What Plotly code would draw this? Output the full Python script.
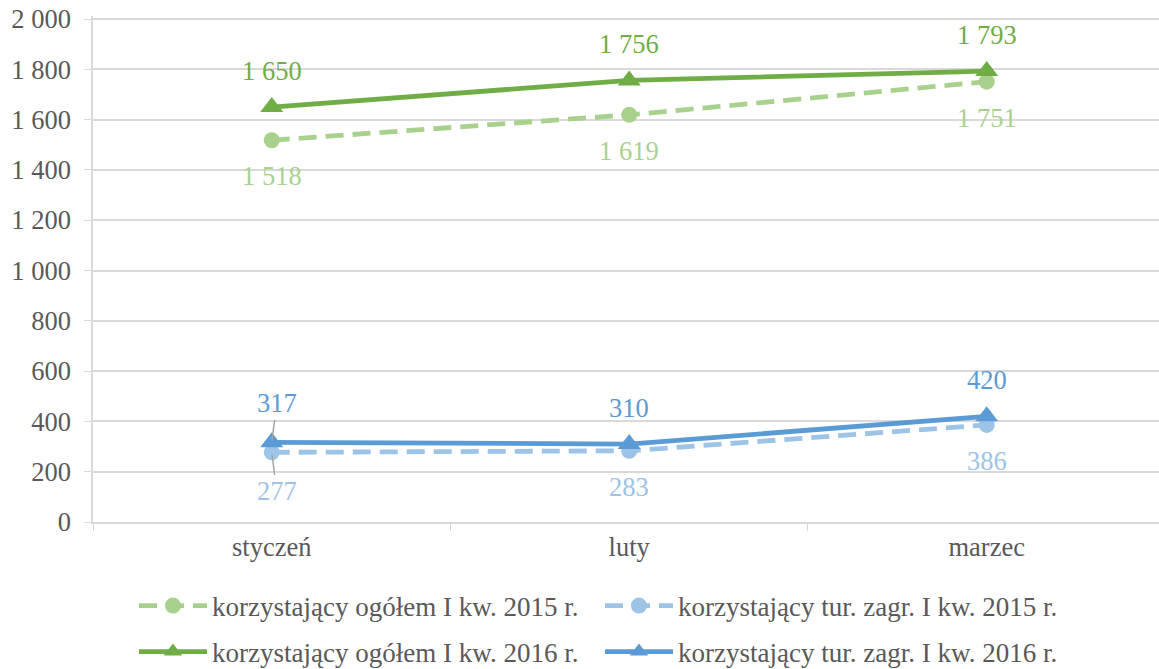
import plotly.graph_objects as go

categories = ["styczeń", "luty", "marzec"]
total_2015 = [1518, 1619, 1751]
foreign_2015 = [277, 283, 386]
total_2016 = [1650, 1756, 1793]
foreign_2016 = [317, 310, 420]
names = [
    "korzystający ogółem I kw. 2015 r.",
    "korzystający tur. zagr. I kw. 2015 r.",
    "korzystający ogółem I kw. 2016 r.",
    "korzystający tur. zagr. I kw. 2016 r.",
]
y_ticks = list(range(0, 2001, 200))

FONT = "Liberation Serif"
FS = 26.5
C_G_DARK = "#70ad47"
C_G_LIGHT = "#a9d18e"
C_B_DARK = "#5b9bd5"
C_B_LIGHT = "#9dc3e6"
DASH = "18px,9px"

series = [
    (total_2015, names[0], C_G_LIGHT, DASH, "circle", 16, "below", "legend"),
    (foreign_2015, names[1], C_B_LIGHT, DASH, "circle", 16, "below", "legend"),
    (total_2016, names[2], C_G_DARK, "solid", "triangle-up", 20, "above", "legend2"),
    (foreign_2016, names[3], C_B_DARK, "solid", "triangle-up", 20, "above", "legend2"),
]

fig = go.Figure()
annotations = []
for vals, name, color, dash, sym, msize, pos, lg in series:
    fig.add_trace(go.Scatter(
        x=categories, y=vals, name=name, mode="lines+markers",
        line=dict(color=color, width=4.8, dash=dash),
        marker=dict(symbol=sym, size=msize, color=color),
        legend=lg,
    ))
    for i, (c, v) in enumerate(zip(categories, vals)):
        txt = f"{v:,}".replace(",", " ")
        shift = 36 if pos == "above" else -36
        leader = (i == 0 and v < 1000)
        if leader:
            annotations.append(dict(
                x=c, y=v, xref="x", yref="y", text=txt, showarrow=True,
                arrowhead=0, arrowwidth=1.5, arrowcolor="#a6a6a6",
                ax=5, ay=-39 if pos == "above" else 39, standoff=2,
                font=dict(family=FONT, size=FS, color=color),
            ))
        else:
            annotations.append(dict(
                x=c, y=v, xref="x", yref="y", text=txt, showarrow=False,
                yshift=shift, font=dict(family=FONT, size=FS, color=color),
            ))

W, H = 1159, 669
legend_common = dict(
    orientation="h", xanchor="left", xref="container", yref="container",
    yanchor="middle", entrywidth=383, entrywidthmode="pixels",
    font=dict(family=FONT, size=27, color="#595959"), itemwidth=68,
    bgcolor="rgba(0,0,0,0)",
)

fig.update_layout(
    width=W, height=H,
    margin=dict(l=93, r=0, t=16, b=147, autoexpand=False),
    paper_bgcolor="white", plot_bgcolor="white",
    font=dict(family=FONT, size=FS, color="#595959"),
    separators=", ",
    showlegend=True,
    legend=dict(legend_common, x=0.1156, y=(H - 606) / H),
    legend2=dict(legend_common, x=0.1156, y=(H - 652) / H),
    annotations=annotations,
)
fig.update_xaxes(
    type="category", range=[-0.5, 2.482], automargin=False,
    showline=True, linecolor="#d9d9d9", linewidth=1.5,
    ticks="outside", tickson="boundaries", ticklen=7, tickcolor="#d9d9d9",
    showgrid=False, tickfont=dict(family=FONT, size=FS, color="#595959"),
)
fig.update_yaxes(
    range=[0, 2012], tickvals=y_ticks, automargin=False,
    showline=True, linecolor="#d9d9d9", linewidth=1.5,
    showgrid=True, gridcolor="#d9d9d9", gridwidth=1.5,
    ticks="outside", ticklen=7, tickcolor="#d9d9d9", ticklabelstandoff=8,
    ticklabeloverflow="allow",
    zeroline=False, tickformat=",d",
    tickfont=dict(family=FONT, size=FS, color="#595959"),
)

fig.write_html("out.html", config={"displayModeBar": False},
               post_script="document.body.style.margin='0';")
